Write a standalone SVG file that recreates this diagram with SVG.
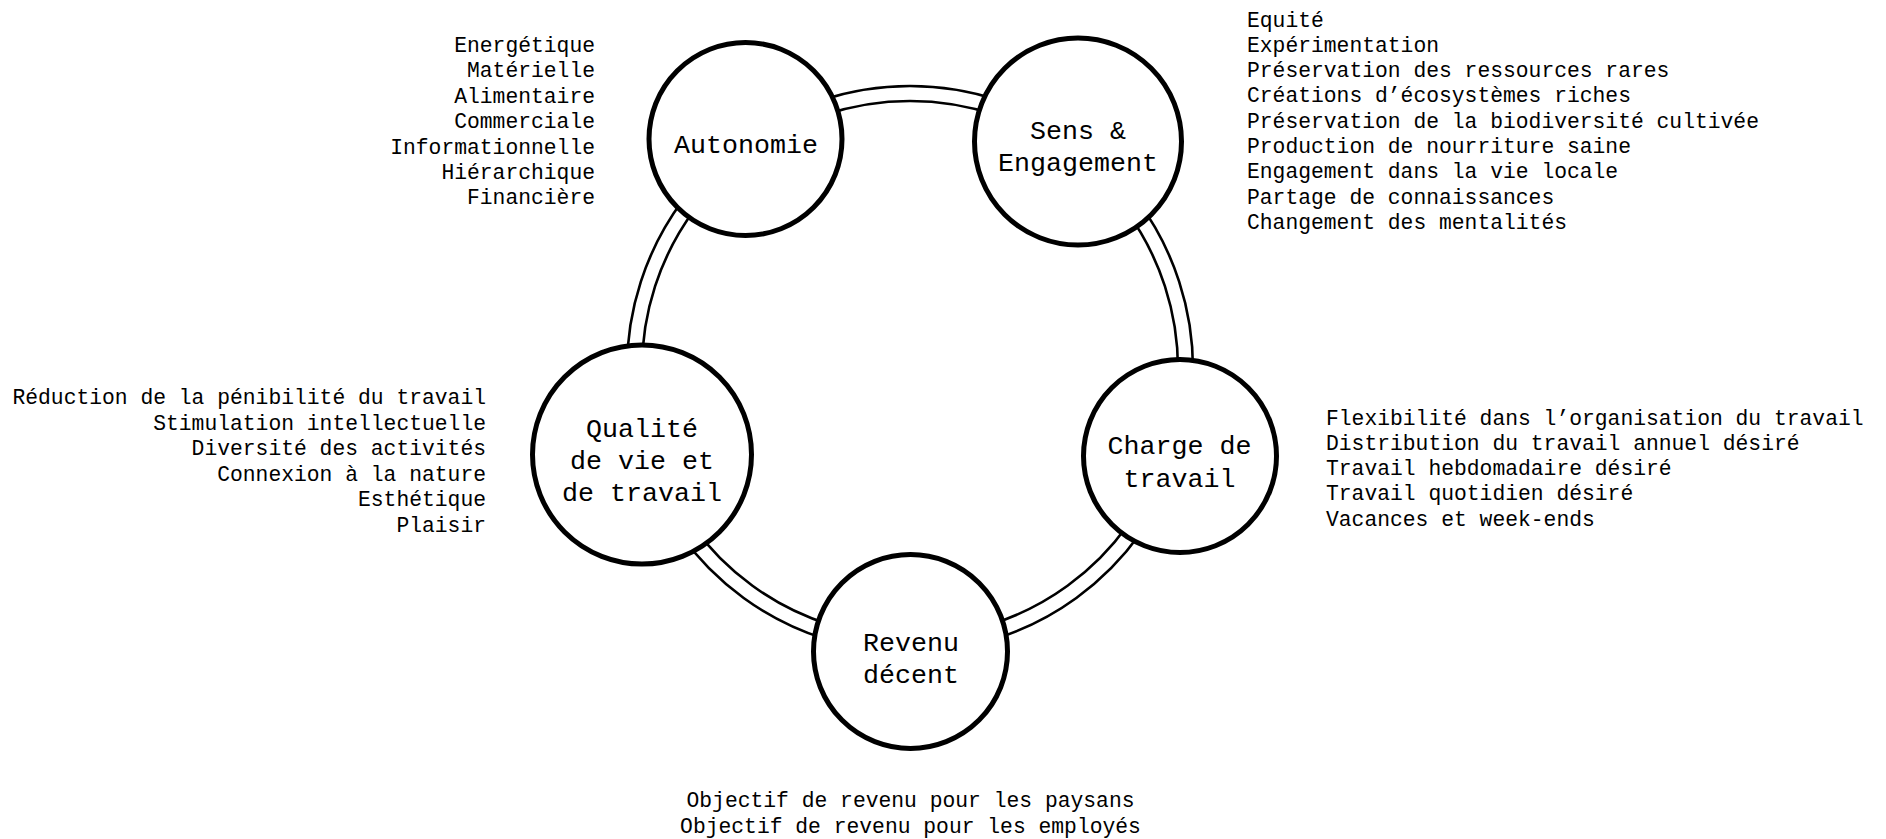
<svg xmlns="http://www.w3.org/2000/svg" width="1886" height="839" viewBox="0 0 1886 839">
<style>
  .bg { fill: #ffffff; }
  .link { fill: none; stroke: #000000; stroke-width: 2.6; }
  .node { fill: #ffffff; stroke: #000000; stroke-width: 5; }
  .label { font-family: "Liberation Mono", "DejaVu Sans Mono", monospace; font-size: 26.67px; fill: #000000; text-anchor: middle; }
  .item { font-family: "Liberation Mono", "DejaVu Sans Mono", monospace; font-size: 21.33px; fill: #000000; }
  .r { text-anchor: end; }
  .l { text-anchor: start; }
  .m { text-anchor: middle; }
</style>
<rect class="bg" x="0" y="0" width="1886" height="839"/>
<g id="connectors">
  <path class="link" d="M743.66,140.05 A283,283 0 0 1 1076.34,140.05"/>
  <path class="link" d="M752.47,152.18 A268,268 0 0 1 1067.53,152.18"/>
  <path class="link" d="M1076.34,140.05 A283,283 0 0 1 1179.15,456.45"/>
  <path class="link" d="M1067.53,152.18 A268,268 0 0 1 1164.88,451.82"/>
  <path class="link" d="M1179.15,456.45 A283,283 0 0 1 910,652"/>
  <path class="link" d="M1164.88,451.82 A268,268 0 0 1 910,637"/>
  <path class="link" d="M910,652 A283,283 0 0 1 640.85,456.45"/>
  <path class="link" d="M910,637 A268,268 0 0 1 655.12,451.82"/>
  <path class="link" d="M640.85,456.45 A283,283 0 0 1 743.66,140.05"/>
  <path class="link" d="M655.12,451.82 A268,268 0 0 1 752.47,152.18"/>
</g>
<g id="node-autonomie">
  <circle class="node" cx="745.5" cy="139" r="96.5"/>
  <text class="label" x="746" y="153">Autonomie</text>
  <text class="item r" x="595" y="52">Energétique</text>
  <text class="item r" x="595" y="77.4">Matérielle</text>
  <text class="item r" x="595" y="102.8">Alimentaire</text>
  <text class="item r" x="595" y="128.2">Commerciale</text>
  <text class="item r" x="595" y="153.6">Informationnelle</text>
  <text class="item r" x="595" y="179">Hiérarchique</text>
  <text class="item r" x="595" y="204.4">Financière</text>
</g>
<g id="node-sens">
  <circle class="node" cx="1078" cy="141.5" r="103.5"/>
  <text class="label" x="1078" y="138.5">Sens &amp;</text>
  <text class="label" x="1078" y="170.5">Engagement</text>
  <text class="item l" x="1247" y="26.5">Equité</text>
  <text class="item l" x="1247" y="51.8">Expérimentation</text>
  <text class="item l" x="1247" y="77.1">Préservation des ressources rares</text>
  <text class="item l" x="1247" y="102.4">Créations d’écosystèmes riches</text>
  <text class="item l" x="1247" y="127.7">Préservation de la biodiversité cultivée</text>
  <text class="item l" x="1247" y="153">Production de nourriture saine</text>
  <text class="item l" x="1247" y="178.3">Engagement dans la vie locale</text>
  <text class="item l" x="1247" y="203.6">Partage de connaissances</text>
  <text class="item l" x="1247" y="228.9">Changement des mentalités</text>
</g>
<g id="node-charge">
  <circle class="node" cx="1180" cy="456" r="96.5"/>
  <text class="label" x="1179.5" y="454">Charge de</text>
  <text class="label" x="1179.5" y="486.5">travail</text>
  <text class="item l" x="1326" y="424.5">Flexibilité dans l’organisation du travail</text>
  <text class="item l" x="1326" y="449.8">Distribution du travail annuel désiré</text>
  <text class="item l" x="1326" y="475.1">Travail hebdomadaire désiré</text>
  <text class="item l" x="1326" y="500.4">Travail quotidien désiré</text>
  <text class="item l" x="1326" y="525.7">Vacances et week-ends</text>
</g>
<g id="node-revenu">
  <circle class="node" cx="910.5" cy="651.5" r="97"/>
  <text class="label" x="911" y="650.5">Revenu</text>
  <text class="label" x="911" y="682.5">décent</text>
  <text class="item m" x="910.5" y="806.5">Objectif de revenu pour les paysans</text>
  <text class="item m" x="910.5" y="832.5">Objectif de revenu pour les employés</text>
</g>
<g id="node-qualite">
  <circle class="node" cx="642" cy="454.5" r="109.5"/>
  <text class="label" x="642" y="437.3">Qualité</text>
  <text class="label" x="642" y="469">de vie et</text>
  <text class="label" x="642" y="500.7">de travail</text>
  <text class="item r" x="486" y="404">Réduction de la pénibilité du travail</text>
  <text class="item r" x="486" y="429.5">Stimulation intellectuelle</text>
  <text class="item r" x="486" y="455">Diversité des activités</text>
  <text class="item r" x="486" y="480.5">Connexion à la nature</text>
  <text class="item r" x="486" y="506">Esthétique</text>
  <text class="item r" x="486" y="531.5">Plaisir</text>
</g>
</svg>
